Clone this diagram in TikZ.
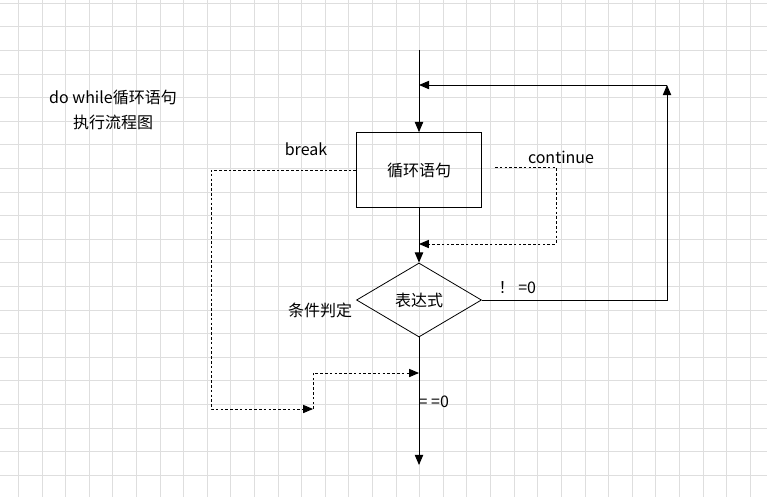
\documentclass[tikz,border=0pt]{standalone}
\usepackage{fontspec}
\setmainfont{Noto Sans CJK SC}
\usetikzlibrary{arrows,shapes.geometric}

\begin{document}
\begin{tikzpicture}[>=triangle 45,x=0.75pt,y=-0.75pt,font=\fontsize{12}{18.75}\selectfont,
		gridline/.style={line width=0.6pt,color=black!13},
		flow/.style={line width=0.75pt,->},
		jump/.style={line width=0.7pt,dash pattern=on 2pt off 1.6pt,->},
		stmtbox/.style={draw,line width=0.6pt,minimum width=93.75pt,minimum height=56.25pt,inner sep=0pt},
		testbox/.style={draw,diamond,line width=0.6pt,minimum width=93.75pt,minimum height=55.5pt,inner sep=0pt}]%do while
	\useasboundingbox (0,0) rectangle (767,497);
	\fill[white] (0,0) rectangle (767,497);
	% grid
	\foreach \i in {0,...,31}
		\draw[gridline] ({18.3+23.61*\i},0) -- ({18.3+23.61*\i},497);
	\foreach \j in {0,...,20}
		\draw[gridline] (0,{3.1+23.61*\j}) -- (767,{3.1+23.61*\j});
	% nodes
	\node (title) at (113,110) [align=center] {do while循环语句\\执行流程图};
	\node[stmtbox] (loopbody) at (419,170) {循环语句};
	\node[testbox] (cond) at (419,300) {表达式};
	\node (brklabel) at (306,149) {break};
	\node (contlabel) at (561,157) {continue};
	\node (condlabel) at (320,310) {条件判定};
	\node[anchor=west] (truelabel) at (494,288) {！ =0};
	\node[anchor=west] (falselabel) at (414,402) {= =0};
	% points on the main line
	\coordinate (start) at (419,50);
	\coordinate (backjoin) at (419,85);
	\coordinate (backtop) at (667,85);
	\coordinate (contfrom) at (495,167);
	\coordinate (contcorner) at (556,244);
	\coordinate (contjoin) at (419,244);
	\coordinate (brkleft) at (211,409);
	\coordinate (brkstep) at (313,409);
	\coordinate (brkjoin) at (419,373);
	\coordinate (stop) at (419,465);
	% connectors
	\draw[flow] (start) -- (loopbody);
	\draw[flow] (loopbody) -- (cond);
	\draw[flow] (cond) -- (stop);
	\draw[flow] (cond.east) -| (backtop);
	\draw[flow] (backtop) -- (backjoin);
	\draw[jump] (contfrom) -| (contcorner) -- (contjoin);
	\draw[jump] (loopbody.west) -| (brkleft) -- (brkstep);
	\draw[jump] (brkstep) |- (brkjoin);
\end{tikzpicture}
\end{document}
